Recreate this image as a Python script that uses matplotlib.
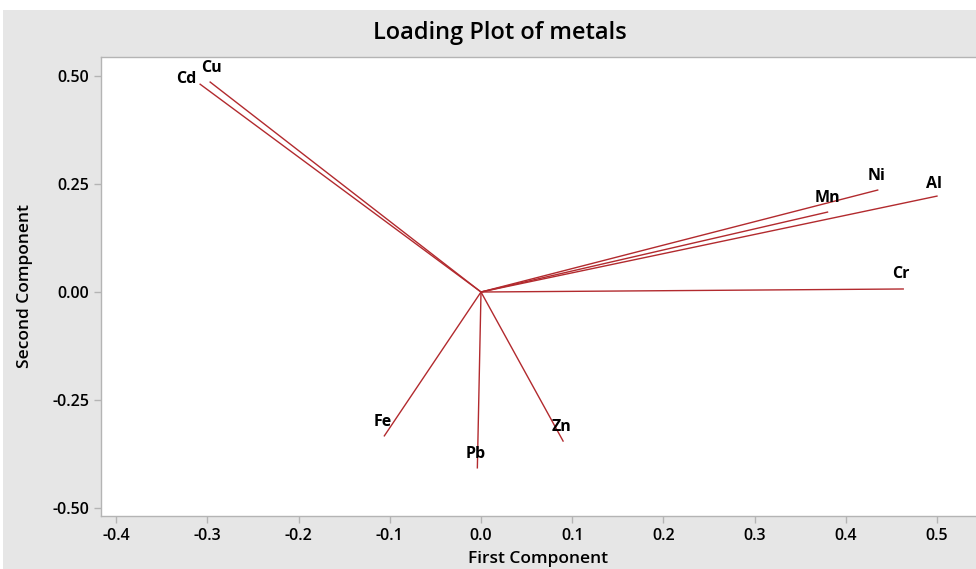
import matplotlib
matplotlib.use("Agg")
import matplotlib.pyplot as plt
from matplotlib.patches import Rectangle

plt.rcParams['font.family'] = ['Open Sans', 'DejaVu Sans']

# loadings
metals = ['Cd', 'Cu', 'Ni', 'Mn', 'Al', 'Cr', 'Fe', 'Pb', 'Zn']
pc1 = [-0.308, -0.297, 0.435, 0.380, 0.500, 0.463, -0.106, -0.004, 0.090]
pc2 = [0.481, 0.486, 0.236, 0.185, 0.222, 0.007, -0.333, -0.407, -0.345]
# label offsets in points (dx, dy)
offsets = {'Cd': (-10, 4), 'Cu': (1, 10), 'Ni': (-1, 10), 'Mn': (0, 10),
           'Al': (-2, 9), 'Cr': (-2, 11), 'Fe': (-1, 10), 'Pb': (-1, 10), 'Zn': (-1, 10)}

xticks = [-0.4, -0.3, -0.2, -0.1, 0.0, 0.1, 0.2, 0.3, 0.4, 0.5]
yticks = [-0.50, -0.25, 0.00, 0.25, 0.50]

fig = plt.figure(figsize=(9.76, 5.69), dpi=100)
fig.patch.set_facecolor('white')
bg = Rectangle((3/976, 0), 1, (569-10)/569, transform=fig.transFigure,
               facecolor='#e6e6e6', edgecolor='none', zorder=-10)
fig.patches.append(bg)

ax = fig.add_axes([101/976, 53/569, 1 - 101/976, (516-57)/569])
ax.set_zorder(1)
ax.set_facecolor('white')
line_col = '#b22a2e'
for name, x, y in zip(metals, pc1, pc2):
    ax.plot([0, x], [0, y], color=line_col, lw=1.0)
    dx, dy = offsets[name]
    ax.annotate(name, (x, y), xytext=(dx, dy), textcoords='offset points',
                ha='center', va='center', fontsize=11.5, fontweight='bold')

ax.set_xlim(-0.4167, 0.5428)
ax.set_ylim(-0.5185, 0.544)
ax.set_xticks(xticks)
ax.set_xticklabels(['%.1f' % v for v in xticks])
ax.set_yticks(yticks)
ax.set_yticklabels(['%.2f' % v for v in yticks])
for s in ax.spines.values():
    s.set_color('#b4b4b4')
    s.set_linewidth(1.0)
ax.spines['right'].set_visible(False)
ax.tick_params(colors='#b4b4b4', length=5, width=1, labelcolor='black',
               labelsize=11.5)
for t in ax.get_xticklabels() + ax.get_yticklabels():
    t.set_fontweight('semibold')

ax.set_xlabel('First Component', fontsize=12.5, fontweight='semibold', labelpad=5)
ax.set_ylabel('Second Component', fontsize=12.5, fontweight='semibold', labelpad=14)
fig.text(500/976, 1 - 33/569, 'Loading Plot of metals', ha='center', va='center',
         fontsize=17, fontweight='semibold')

fig.savefig('out.png', dpi=100, facecolor=fig.get_facecolor())
